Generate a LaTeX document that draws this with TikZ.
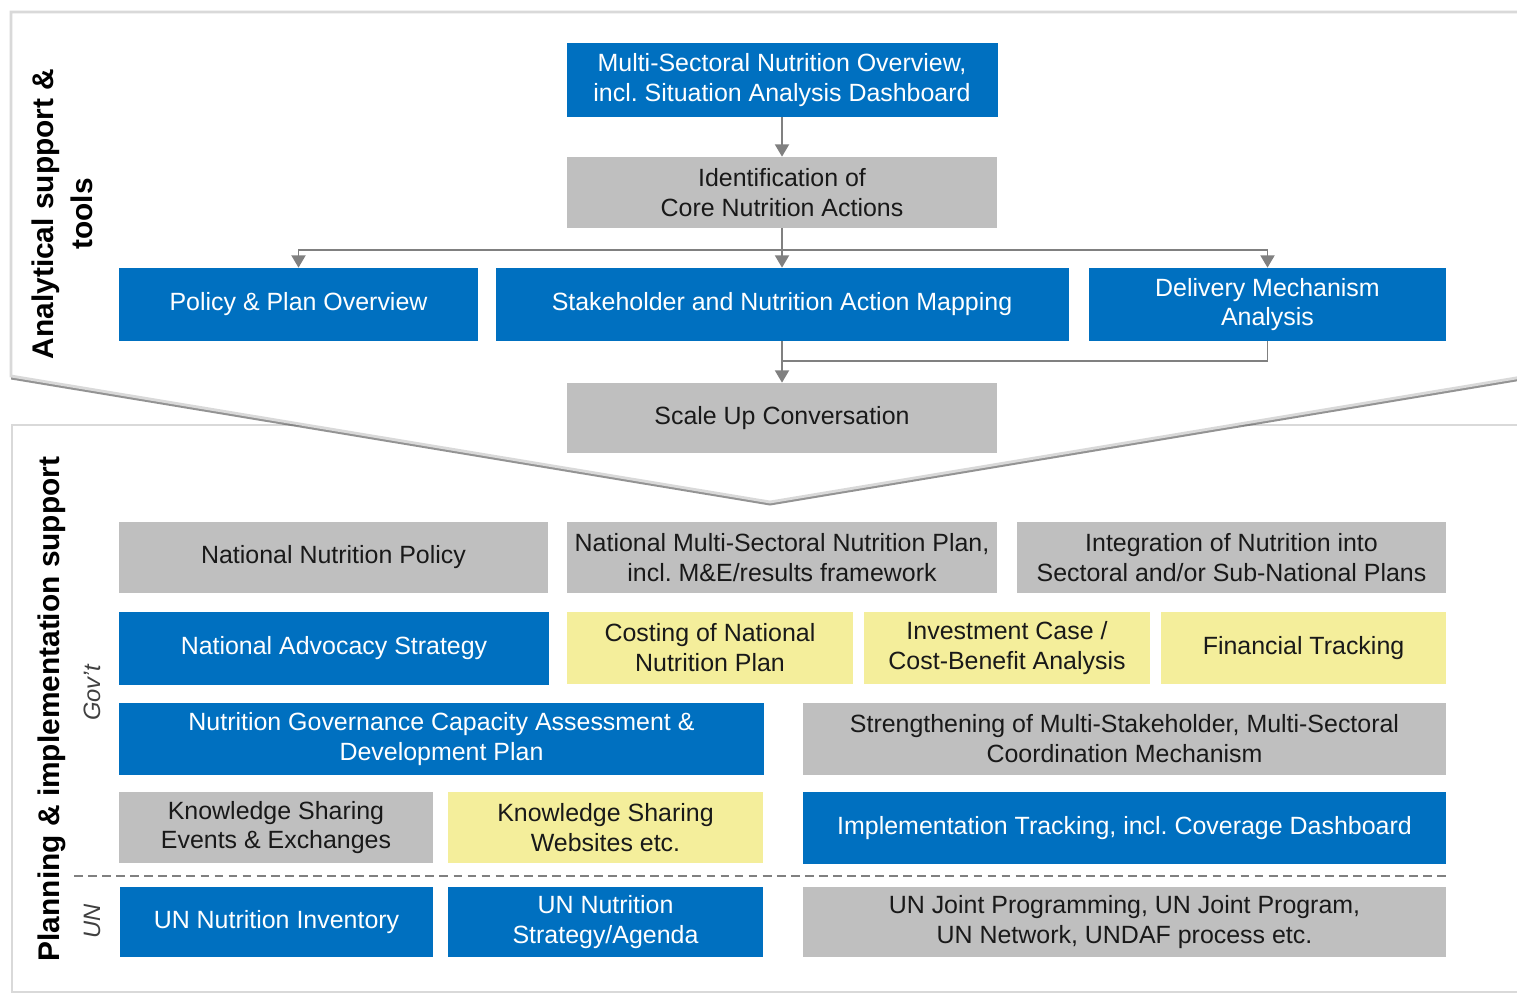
\documentclass[tikz,border=0pt]{standalone}
\usepackage{fontspec}
\setmainfont{Liberation Sans}
\usetikzlibrary{arrows.meta,shadows}
\definecolor{unblue}{HTML}{0070C0}
\definecolor{boxgray}{HTML}{BFBFBF}
\definecolor{boxyellow}{HTML}{F4EE9B}
\definecolor{framegray}{HTML}{D9D9D9}
\definecolor{linegray}{HTML}{808080}
\frenchspacing
\tikzset{
  box/.style={inner sep=0pt, align=center, font=\fontsize{14.2}{17}\selectfont},
  wh/.style 2 args={minimum width=#1*0.02cm, minimum height=#2*0.02cm},
  bluebox/.style={box, fill=unblue, text=white},
  graybox/.style={box, fill=boxgray, text=black!90},
  yellowbox/.style={box, fill=boxyellow, text=black!90},
  conn/.style={draw=linegray, line width=1pt, -{Triangle[width=8pt,length=7pt]}},
  link/.style={draw=linegray, line width=1pt},
  panel/.style={draw=framegray, line width=1.6pt, fill=white},
  side/.style={rotate=90, align=center, font=\bfseries\fontsize{17}{22}\selectfont},
  tier/.style={rotate=90, font=\itshape\fontsize{13.5}{16}\selectfont, text=black!75}
}
\begin{document}
\begin{tikzpicture}[x=0.02cm, y=-0.02cm]
\path[use as bounding box, clip] (0,0) rectangle (1517,993);
\fill[white] (0,0) rectangle (1517,993);
% lower panel, then the chevron laid over it
\draw[panel] (12,425) rectangle (1540,992);
\draw[panel, drop shadow={shadow xshift=0cm, shadow yshift=-0.07cm, opacity=.6, fill=black!70}]
  (11,12) -- (1540,12) -- (1540,374) -- (770,502) -- (11,376) -- cycle;

\node[side] (analysis) at (62,214) {Analytical support \&\\tools};
\node[side] (planning) at (52,709) {Planning \& implementation support};
\node[tier] (govt) at (92,693) {Gov't};
\node[tier] (un) at (92,921) {UN};

% analytical tools
\node[bluebox, wh={431}{74}] (overview) at (782,80) {Multi-Sectoral Nutrition Overview,\\incl. Situation Analysis Dashboard};
\node[graybox, wh={430}{71}] (core) at (782,192.5) {Identification of\\Core Nutrition Actions};
\node[bluebox, wh={359}{73}] (policy) at (298.5,304.5) {Policy \& Plan Overview};
\node[bluebox, wh={573}{73}] (mapping) at (782,304.5) {Stakeholder and Nutrition Action Mapping};
\node[bluebox, wh={357}{73}] (delivery) at (1267.5,304.5) {Delivery Mechanism\\Analysis};
\node[graybox, wh={430}{70}] (scaleup) at (782,418) {Scale Up Conversation};

\coordinate (split) at (782,250);
\coordinate (merge) at (782,361);
\draw[conn] (overview) -- (core);
\draw[conn] (core) -- (mapping);
\draw[conn] (split) -| (policy);
\draw[conn] (split) -| (delivery);
\draw[link] (delivery) |- (merge);
\draw[conn] (mapping) -- (scaleup);

% planning and implementation
\node[graybox, wh={429}{71}] (policynat) at (333.5,557.5) {National Nutrition Policy};
\node[graybox, wh={430}{71}] (plannat) at (782,557.5) {National Multi-Sectoral Nutrition Plan,\\incl. M\&E/results framework};
\node[graybox, wh={429}{71}] (integration) at (1231.5,557.5) {Integration of Nutrition into\\Sectoral and/or Sub-National Plans};

\node[bluebox, wh={430}{73}] (advocacy) at (334,648.5) {National Advocacy Strategy};
\node[yellowbox, wh={286}{72}] (costing) at (710,648) {Costing of National\\Nutrition Plan};
\node[yellowbox, wh={286}{72}] (investment) at (1007,648) {Investment Case /\\Cost-Benefit Analysis};
\node[yellowbox, wh={285}{72}] (financial) at (1303.5,648) {Financial Tracking};

\node[bluebox, wh={645}{72}] (governance) at (441.5,739) {Nutrition Governance Capacity Assessment \&\\Development Plan};
\node[graybox, wh={643}{72}] (coordination) at (1124.5,739) {Strengthening of Multi-Stakeholder, Multi-Sectoral\\Coordination Mechanism};

\node[graybox, wh={314}{71}] (events) at (276,827.5) {Knowledge Sharing\\Events \& Exchanges};
\node[yellowbox, wh={315}{71}] (websites) at (605.5,827.5) {Knowledge Sharing\\Websites etc.};
\node[bluebox, wh={643}{72}] (tracking) at (1124.5,828) {Implementation Tracking, incl. Coverage Dashboard};

\coordinate (sepL) at (74,876);
\coordinate (sepR) at (1446,876);
\draw[link, line width=0.8pt, dash pattern=on 5pt off 3pt] (sepL) -- (sepR);

\node[bluebox, wh={313}{70}] (inventory) at (276.5,922) {UN Nutrition Inventory};
\node[bluebox, wh={315}{70}] (agenda) at (605.5,922) {UN Nutrition\\Strategy/Agenda};
\node[graybox, wh={643}{70}] (joint) at (1124.5,922) {UN Joint Programming, UN Joint Program,\\UN Network, UNDAF process etc.};
\end{tikzpicture}
\end{document}
